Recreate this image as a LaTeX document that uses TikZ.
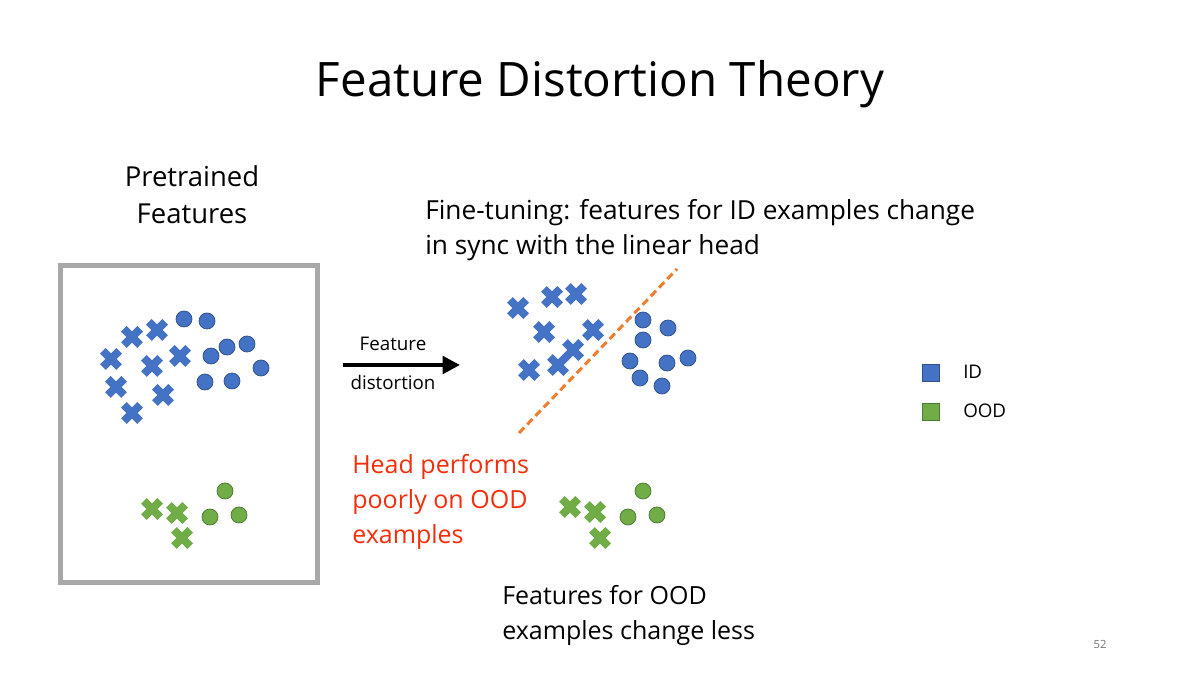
\documentclass[tikz,border=0pt]{standalone}
\usepackage{fontspec}
\setmainfont{Open Sans}
\usetikzlibrary{shapes.misc, arrows.meta}
\definecolor{idblue}{RGB}{68,114,196}
\definecolor{oodgreen}{RGB}{112,173,71}
\definecolor{headorange}{RGB}{237,125,49}
\definecolor{warnred}{RGB}{245,45,10}
\definecolor{framegray}{RGB}{168,168,168}

\begin{document}
\begin{tikzpicture}[
    x=0.8pt, y=-0.8pt,
    xmark/.style={cross out, draw=#1, line width=6.4pt, minimum size=13pt, inner sep=0pt, outer sep=0pt},
    omark/.style={circle, fill=#1, draw=#1!70!black, line width=0.6pt, minimum size=12.8pt, inner sep=0pt},
    keybox/.style={rectangle, fill=#1, draw=#1!70!black, line width=0.6pt, minimum size=13.6pt, inner sep=0pt},
    txt/.style 2 args={font=\fontsize{#1}{#2}\selectfont, inner sep=0pt, anchor=base west, align=left},
    arrow/.style={-{Triangle[length=14pt,width=14pt]}, line width=3.2pt},
    headline/.style={headorange, line width=2.4pt, dash pattern=on 6pt off 3.5pt}
]
\useasboundingbox[fill=white] (0,0) rectangle (1200,675);

% title
\node[font=\fontsize{38}{46}\selectfont, inner sep=0pt, anchor=base] (title) at (600,97) {Feature Distortion Theory};

% pretrained features
\node[txt={22}{30}, anchor=base, align=center] (pretrained) at (192,224) {Pretrained\\Features};
\draw[framegray, line width=4pt] (60.5,265.5) rectangle (317.5,582.5);

\foreach \x/\y [count=\i] in {132/337, 157/330, 111/359, 152/366, 180/356, 116/387, 163/395, 132/413}
    \node[xmark=idblue] (lx\i) at (\x,\y) {};
\foreach \x/\y [count=\i] in {184/319, 207/321, 211/356, 227/347, 247/344, 261/368, 205/382, 232/381}
    \node[omark=idblue] (lo\i) at (\x,\y) {};
\foreach \x/\y [count=\i] in {152/509, 177/513, 182/538}
    \node[xmark=oodgreen] (lgx\i) at (\x,\y) {};
\foreach \x/\y [count=\i] in {225/491, 210/517, 239/515}
    \node[omark=oodgreen] (lgo\i) at (\x,\y) {};

% distortion arrow
\coordinate (dstart) at (343,365);
\coordinate (dend) at (460,365);
\draw[arrow] (dstart) -- (dend);
\node[txt={15}{18}, anchor=base] (feat) at (393,351) {Feature};
\node[txt={15}{18}, anchor=base] (dist) at (393,390) {distortion};

% fine-tuned features
\node[txt={21}{28}] (finetune) at (425,255) {Fine-tuning: features for ID examples change\\in sync with the linear head};

\foreach \x/\y [count=\i] in {518/308, 552/297, 576/294, 544/332, 593/330, 529/370, 558/365, 573/350}
    \node[xmark=idblue] (rx\i) at (\x,\y) {};
\foreach \x/\y [count=\i] in {643/320, 668/328, 643/340, 630/361, 667/363, 688/358, 640/378, 662/386}
    \node[omark=idblue] (ro\i) at (\x,\y) {};
\foreach \x/\y [count=\i] in {570/507, 595/512, 600/538}
    \node[xmark=oodgreen] (rgx\i) at (\x,\y) {};
\foreach \x/\y [count=\i] in {643/491, 628/517, 657/515}
    \node[omark=oodgreen] (rgo\i) at (\x,\y) {};

\coordinate (hstart) at (519,433);
\coordinate (hend) at (677,269);
\draw[headline] (hstart) -- (hend);

\node[txt={20}{28}, text=warnred] (poor) at (352,544) {Head performs\\poorly on OOD\\examples};
\node[txt={20}{28}] (oodless) at (502,639) {Features for OOD\\examples change less};

% legend
\node[keybox=idblue] (keyid) at (931,373) {};
\node[keybox=oodgreen] (keyood) at (931,412) {};
\node[txt={15}{18}] (idtxt) at (963,379) {ID};
\node[txt={15}{18}] (oodtxt) at (963,418) {OOD};

\node[txt={9}{11}, anchor=base, text=black!55] (pagenum) at (1100,648) {52};
\end{tikzpicture}
\end{document}
